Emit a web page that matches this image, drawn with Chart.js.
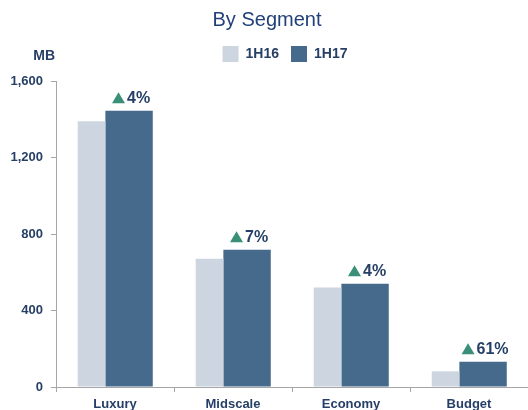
<!DOCTYPE html>
<html>
<head>
<meta charset="utf-8">
<script src="https://cdn.jsdelivr.net/npm/chart.js@4"></script>
<style>
  html, body { margin: 0; padding: 0; background: #fff; }
  #wrap { width: 528px; height: 410px; }
</style>
</head>
<body>
<div id="wrap"><canvas id="segmentChart" width="528" height="410"></canvas></div>
<script>
const segments = ['Luxury', 'Midscale', 'Economy', 'Budget'];
const values1H16 = [1390, 671, 520, 82];
const values1H17 = [1445, 718, 540, 132];
const growthLabels = ['4%', '7%', '4%', '61%'];
const yTicks = [0, 400, 800, 1200, 1600];

const navy = '#263f66';
const axisGrey = '#a6a6a6';
const font = '"Liberation Sans", Arial, sans-serif';

// MB unit label and the growth markers above the 1H17 bars
const annotations = {
    id: 'annotations',
    afterInit(chart) {
        // leave some room between the legend and the plot
        const fit = chart.legend.fit;
        chart.legend.fit = function () {
            fit.call(this);
            this.height += 9;
        };
    },
    afterLayout(chart) {
        // legend sits a little right of centre in the original
        chart.legend.left += 18;
        chart.legend.right += 18;
    },
    afterDatasetsDraw(chart) {
        const ctx = chart.ctx;
        ctx.save();
        ctx.fillStyle = navy;
        ctx.font = 'bold 14px ' + font;
        ctx.textAlign = 'right';
        ctx.textBaseline = 'middle';
        ctx.fillText('MB', 55, 56);

        ctx.font = 'bold 16px ' + font;
        ctx.textAlign = 'left';
        chart.getDatasetMeta(1).data.forEach((bar, i) => {
            const text = growthLabels[i];
            const triW = 13, triH = 11, gap = 2;
            const textW = ctx.measureText(text).width;
            const x0 = bar.x + 2 - (triW + gap + textW) / 2;
            const cy = bar.y - 13;
            ctx.fillStyle = '#3b8f78';
            ctx.beginPath();
            ctx.moveTo(x0, cy + triH / 2);
            ctx.lineTo(x0 + triW, cy + triH / 2);
            ctx.lineTo(x0 + triW / 2, cy - triH / 2);
            ctx.closePath();
            ctx.fill();
            ctx.fillStyle = navy;
            ctx.fillText(text, x0 + triW + gap, cy + 1);
        });
        ctx.restore();
    }
};

const ctx = document.getElementById('segmentChart').getContext('2d');
const segmentChart = new Chart(ctx, {
    type: 'bar',
    data: {
        labels: segments,
        datasets: [{
            label: '1H16',
            data: values1H16,
            backgroundColor: '#cdd6e0',
            categoryPercentage: 0.795,
            barPercentage: 0.59
        }, {
            label: '1H17',
            data: values1H17,
            backgroundColor: '#466a8b',
            categoryPercentage: 0.477,
            barPercentage: 1.684
        }]
    },
    options: {
        responsive: false,
        animation: false,
        layout: { padding: { left: 0, right: -6, top: 0, bottom: 0 } },
        plugins: {
            title: {
                display: true,
                text: 'By Segment',
                color: '#22407a',
                font: { family: font, size: 20, weight: 'normal' },
                padding: { top: 8, bottom: 2 }
            },
            legend: {
                labels: {
                    boxWidth: 16,
                    boxHeight: 16,
                    color: navy,
                    font: { family: font, size: 14, weight: 'bold' },
                    padding: 12
                }
            },
            tooltip: { enabled: false }
        },
        scales: {
            x: {
                grid: { drawOnChartArea: false, color: axisGrey, tickLength: 5, offset: true },
                border: { color: axisGrey },
                ticks: {
                    color: navy,
                    font: { family: font, size: 13, weight: 'bold' },
                    padding: 5
                },
                afterFit(scale) { scale.height = 23; }
            },
            y: {
                min: 0,
                max: 1600,
                afterBuildTicks(scale) { scale.ticks = yTicks.map(v => ({ value: v })); },
                grid: { drawOnChartArea: false, color: axisGrey, tickLength: 5 },
                border: { color: axisGrey },
                ticks: {
                    color: navy,
                    font: { family: font, size: 13, weight: 'bold' },
                    padding: 8
                },
                afterFit(scale) { scale.width = 56; }
            }
        }
    },
    plugins: [annotations]
});
</script>
</body>
</html>
